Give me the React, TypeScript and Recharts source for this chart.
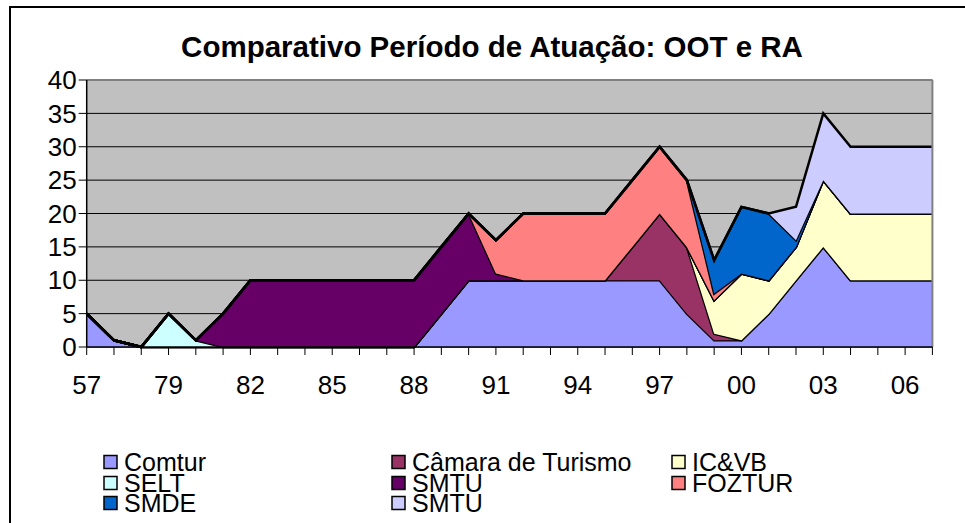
import React from "react";
import { AreaChart, Area, XAxis, YAxis, CartesianGrid, ReferenceLine } from "recharts";

const years = ["57","77","78","79","80","81","82","83","84","85","86","87","88","89","90","91","92","93","94","95","96","97","98","99","00","01","02","03","04","05","06","07"];

const comtur = [5,1,0,0,0,0,0,0,0,0,0,0,0,5,10,10,10,10,10,10,10,10,5,1,1,5,10,15,10,10,10,10];
const camara = [0,0,0,0,0,0,0,0,0,0,0,0,0,0,0,0,0,0,0,0,5,10,10,1,0,0,0,0,0,0,0,0];
const icvb   = [0,0,0,0,0,0,0,0,0,0,0,0,0,0,0,0,0,0,0,0,0,0,0,5,10,5,5,10,10,10,10,10];
const selt   = [0,0,0,5,1,0,0,0,0,0,0,0,0,0,0,0,0,0,0,0,0,0,0,0,0,0,0,0,0,0,0,0];
const smtu   = [0,0,0,0,0,5,10,10,10,10,10,10,10,10,10,1,0,0,0,0,0,0,0,0,0,0,0,0,0,0,0,0];
const foztur = [0,0,0,0,0,0,0,0,0,0,0,0,0,0,0,5,10,10,10,10,10,10,10,1,0,0,0,0,0,0,0,0];
const smde   = [0,0,0,0,0,0,0,0,0,0,0,0,0,0,0,0,0,0,0,0,0,0,0,5,10,10,1,0,0,0,0,0];
const smtu2  = [0,0,0,0,0,0,0,0,0,0,0,0,0,0,0,0,0,0,0,0,0,0,0,0,0,0,5,10,10,10,10,10];

const yTicks = [0,5,10,15,20,25,30,35,40];

const seriesKeys = ["comtur","camara","icvb","selt","smtu","foztur","smde","smtu2"];
const seriesNames = ["Comtur","Câmara de Turismo","IC&VB","SELT","SMTU","FOZTUR","SMDE","SMTU"];
const seriesColors = ["#9999FF","#993366","#FFFFCC","#CCFFFF","#660066","#FF8080","#0066CC","#CCCCFF"];
const seriesValues = [comtur, camara, icvb, selt, smtu, foztur, smde, smtu2];

const data = years.map((y, i) => {
  const row: any = { year: y };
  seriesKeys.forEach((k, j) => { row[k] = seriesValues[j][i]; });
  return row;
});

const FONT = '"Liberation Sans", Arial, sans-serif';

const XTick = (props: any) => {
  const { x, y, payload, index } = props;
  if (index % 3 !== 0) return <g />;
  return (
    <text x={x} y={y} dy="0.71em" textAnchor="middle" fontSize={26} fontFamily={FONT} fill="#000">
      {payload.value}
    </text>
  );
};

const legendCols = [104, 392, 672];
const legendRows = [462, 483, 503];

export default function App() {
  return (
    <div style={{ position: "absolute", left: 0, top: 0, width: 965, height: 523, overflow: "hidden", background: "#fff" }}>
      <div style={{ position: "absolute", left: 9, top: 6, width: 1000, height: 600, borderTop: "2px solid #000", borderLeft: "2px solid #000" }} />
      <div style={{ position: "absolute", left: 0, top: 0 }}>
        <AreaChart width={965} height={523} data={data} margin={{ top: 80, right: 32.6, bottom: 136, left: 26.7 }}>
          <CartesianGrid vertical={false} stroke="#000" strokeWidth={1} fill="#C0C0C0" fillOpacity={1} />
          <XAxis
            dataKey="year"
            interval={0}
            tickSize={8}
            tickMargin={21}
            height={40}
            axisLine={{ stroke: "#000", strokeWidth: 1.5 }}
            tickLine={{ stroke: "#000", strokeWidth: 1 }}
            tick={<XTick />}
          />
          <YAxis
            domain={[0, 40]}
            ticks={yTicks}
            width={60}
            tickSize={8}
            tickMargin={2}
            interval={0}
            axisLine={{ stroke: "#000", strokeWidth: 1.5 }}
            tickLine={{ stroke: "#000", strokeWidth: 1 }}
            tick={{ fontSize: 26, fontFamily: FONT, fill: "#000" }}
          />
          {seriesKeys.map((k, j) => (
            <Area
              key={k}
              type="linear"
              dataKey={k}
              name={seriesNames[j]}
              stackId="1"
              stroke="#000"
              strokeWidth={2.5}
              fill={seriesColors[j]}
              fillOpacity={1}
              dot={false}
              activeDot={false}
              isAnimationActive={false}
            />
          ))}
          <ReferenceLine y={40} stroke="#808080" strokeWidth={2} />
          <ReferenceLine x="07" stroke="#808080" strokeWidth={2} />
        </AreaChart>
      </div>
      <svg width={965} height={523} style={{ position: "absolute", left: 0, top: 0, pointerEvents: "none" }}>
        <text x={492} y={57} textAnchor="middle" fontSize={29.5} fontWeight="bold" fontFamily={FONT} fill="#000">
          Comparativo Período de Atuação: OOT e RA
        </text>
        {seriesNames.map((n, j) => {
          const col = j % 3;
          const row = Math.floor(j / 3);
          const x = legendCols[col];
          const cy = legendRows[row];
          return (
            <g key={j}>
              <rect x={x} y={cy - 6.5} width={13} height={13} fill={seriesColors[j]} stroke="#000" strokeWidth={1.5} />
              <text x={x + 20} y={cy + 9} fontSize={25} fontFamily={FONT} fill="#000">{n}</text>
            </g>
          );
        })}
      </svg>
    </div>
  );
}
